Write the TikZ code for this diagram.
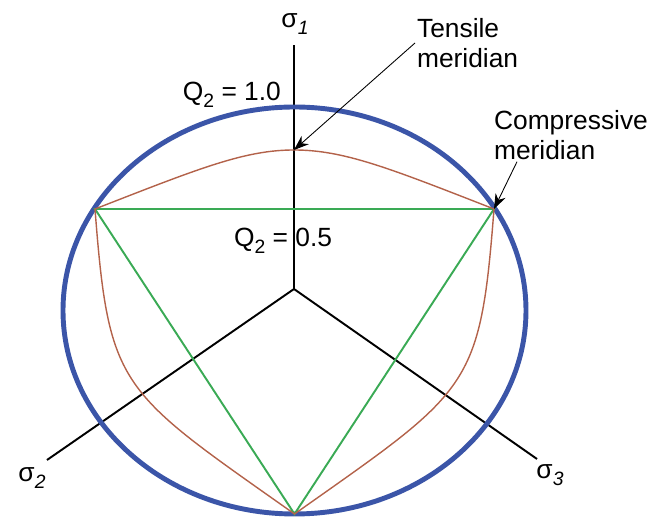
\documentclass[tikz,border=0pt]{standalone}
\usepackage{fontspec}
\setmainfont{Liberation Sans}
\usetikzlibrary{arrows.meta,positioning,calc}
\definecolor{ringblue}{HTML}{3B55A8}
\definecolor{rust}{HTML}{B3624A}
\definecolor{leaf}{HTML}{3AAA55}
\newcommand{\lowsub}[1]{\raisebox{-0.5ex}{\fontsize{11}{11}\selectfont #1}}

\begin{document}
\begin{tikzpicture}[x=0.02cm,y=-0.02cm,font=\fontsize{15}{17}\selectfont]
  \useasboundingbox (0,0) rectangle (650,519);
  \tikzset{axis/.style={line width=1.1pt},lbl/.style={inner sep=1pt,align=left},
    pointer/.style={-{Stealth[length=3mm,width=2.2mm]},line width=0.5pt}}
  % axes
  \coordinate (o) at (294,289);
  \coordinate (a1) at (294,45);
  \coordinate (a2) at (47,460);
  \coordinate (a3) at (537,459);
  \draw[axis] (o) -- (a1);
  \draw[axis] (o) -- (a2);
  \draw[axis] (o) -- (a3);
  \node[lbl] (s1) at (295,24) {σ\lowsub{\itshape 1}};
  \node[lbl] (s2) at (32,478) {σ\lowsub{\itshape 2}};
  \node[lbl] (s3) at (550,475) {σ\lowsub{\itshape 3}};
  % Q2 = 1.0 ring
  \draw[ringblue,line width=2.8pt] (294.5,310.5) ellipse [x radius=231.5,y radius=203.5];
  % Q2 = 0.5 triangle
  \coordinate (cl) at (95,209);
  \coordinate (cr) at (494,209);
  \coordinate (cb) at (294.5,514);
  \coordinate (tp) at (294,150);
  \draw[leaf,line width=1.1pt] (cl) -- (cr) -- (cb) -- cycle;
  % rounded section
  \draw[rust,line width=0.8pt] (cl) .. controls (200,168) and (245,150) .. (tp)
    .. controls (344,150) and (389,168) .. (cr)
    .. controls (480,390) and (470,390) .. (cb)
    .. controls (119,390) and (109,390) .. (cl);
  % labels
  \node[lbl,anchor=east] (q1) at (283,95) {Q\lowsub{2} = 1.0};
  \node[lbl,anchor=west] (q5) at (232,241) {Q\lowsub{2} = 0.5};
  \node[lbl,anchor=west] (tens) at (415,43) {Tensile\\meridian};
  \node[lbl,anchor=west] (comp) at (492,135) {Compressive\\meridian};
  \draw[pointer] (tens.west) -- (tp);
  \draw[pointer] ($(comp.south west)+(25,0)$) -- (cr);
\end{tikzpicture}
\end{document}
